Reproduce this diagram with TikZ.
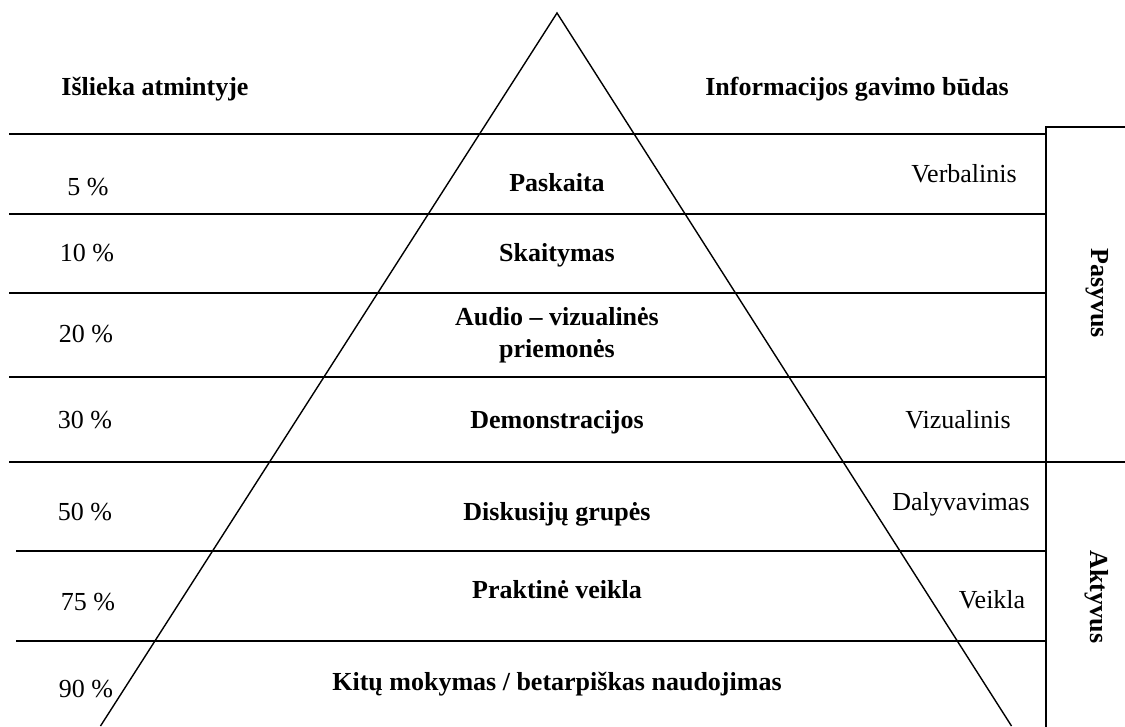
\documentclass[tikz,border=0pt]{standalone}
\usepackage{fontspec}
\setmainfont{Liberation Serif}
\begin{document}
\begin{tikzpicture}[x=1pt,y=-1pt,
  rule/.style={line width=1.6pt,line cap=rect},
  txt/.style={anchor=base,inner sep=0pt,font=\fontsize{26}{32}\selectfont},
  btxt/.style={txt,font=\fontsize{26}{32}\selectfont\bfseries},
  side/.style={btxt,rotate=-90,anchor=center}]
\useasboundingbox (0,0) rectangle (1125,726);
% pyramid
\coordinate (apex) at (557,13);
\coordinate (bl) at (100.5,726);
\coordinate (br) at (1011.5,726);
\draw[line width=1.4pt] (bl) -- (apex) -- (br);
% rows
\draw[rule] (10,134) -- (1046,134);
\draw[rule] (10,214) -- (1046,214);
\draw[rule] (10,293) -- (1046,293);
\draw[rule] (10,377) -- (1046,377);
\draw[rule] (10,462) -- (1125,462);
\draw[rule] (17,551) -- (1046,551);
\draw[rule] (17,641) -- (1046,641);
% right bracket
\draw[rule] (1125,127) -- (1046,127) -- (1046,726);
% headers
\node[btxt] (h1) at (155,95) {Išlieka atmintyje};
\node[btxt] (h2) at (857,95) {Informacijos gavimo būdas};
% percentages
\node[txt] (p1) at (88,195) {5 \%};
\node[txt] (p2) at (87,261) {10 \%};
\node[txt] (p3) at (86,342) {20 \%};
\node[txt] (p4) at (85,428) {30 \%};
\node[txt] (p5) at (85,520) {50 \%};
\node[txt] (p6) at (88,610) {75 \%};
\node[txt] (p7) at (86,697) {90 \%};
% methods
\node[btxt] (m1) at (557,191) {Paskaita};
\node[btxt] (m2) at (557,261) {Skaitymas};
\node[btxt] (m3a) at (557,325) {Audio – vizualinės};
\node[btxt] (m3b) at (557,357) {priemonės};
\node[btxt] (m4) at (557,428) {Demonstracijos};
\node[btxt] (m5) at (557,520) {Diskusijų grupės};
\node[btxt] (m6) at (557,598) {Praktinė veikla};
\node[btxt] (m7) at (557,690) {Kitų mokymas / betarpiškas naudojimas};
% ways
\node[txt] (w1) at (964,182) {Verbalinis};
\node[txt] (w2) at (958,428) {Vizualinis};
\node[txt] (w3) at (961,510) {Dalyvavimas};
\node[txt] (w4) at (992,608) {Veikla};
% side labels
\node[side] (s1) at (1097,293) {Pasyvus};
\node[side] (s2) at (1097,597) {Aktyvus};
\end{tikzpicture}
\end{document}
